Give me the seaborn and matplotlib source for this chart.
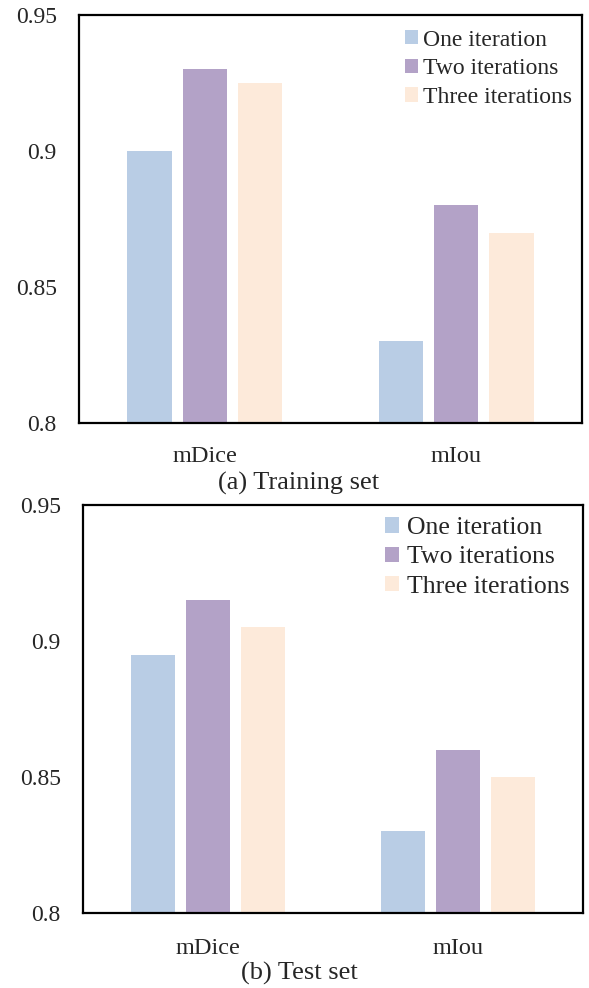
import matplotlib
matplotlib.use("Agg")
import matplotlib.pyplot as plt
import seaborn as sns
import pandas as pd

metrics = ["mDice", "mIou"]
iterations = ["One iteration", "Two iterations", "Three iterations"]
train_vals = {"One iteration": [0.900, 0.830],
              "Two iterations": [0.930, 0.880],
              "Three iterations": [0.925, 0.870]}
test_vals = {"One iteration": [0.895, 0.830],
             "Two iterations": [0.915, 0.860],
             "Three iterations": [0.905, 0.850]}
colors = ["#B9CDE5", "#B3A2C7", "#FDEADA"]
yticks = [0.8, 0.85, 0.9, 0.95]
ytick_labels = ["0.8", "0.85", "0.9", "0.95"]
captions = ["(a) Training set", "(b) Test set"]

sns.set_theme(style="white")
plt.rcParams["font.family"] = ["Liberation Serif", "DejaVu Serif"]

def to_df(vals):
    rows = []
    for it in iterations:
        for m, v in zip(metrics, vals[it]):
            rows.append({"metric": m, "iteration": it, "value": v})
    return pd.DataFrame(rows)

fig = plt.figure(figsize=(5.89, 9.88), dpi=100)
axes_pos = [[79/589, 1-423/988, 503/589, 408/988],
            [83/589, 1-913/988, 500/589, 408/988]]
cap_y = [1-483/988, 1-973/988]
leg_anchor = [(0.648, 0.964), (0.604, 0.970)]
leg_fs = [17, 18.5]
leg_sp = [0.32, 0.28]
leg_tp = [0.2, 0.3]
xpad = [16.5, 18]

for i, vals in enumerate([train_vals, test_vals]):
    ax = fig.add_axes(axes_pos[i])
    df = to_df(vals)
    sns.barplot(data=df, x="metric", y="value", hue="iteration",
                hue_order=iterations, palette=colors, width=0.66, gap=0.2,
                ax=ax, saturation=1, linewidth=0)
    ax.set_ylim(0.8, 0.95)
    ax.set_yticks(yticks)
    ax.set_yticklabels(ytick_labels, fontsize=17)
    ax.set_xticks(range(len(metrics)))
    ax.set_xticklabels(metrics, fontsize=17.5)
    ax.tick_params(axis="x", length=0, pad=xpad[i])
    ax.tick_params(axis="y", length=0, pad=16)
    ax.set_xlabel("")
    ax.set_ylabel("")
    for s in ax.spines.values():
        s.set_visible(True)
        s.set_color("black")
        s.set_linewidth(1.6)
    ax.legend(loc="upper left", bbox_to_anchor=leg_anchor[i], frameon=False,
              fontsize=leg_fs[i], handlelength=0.55, handleheight=0.55,
              handletextpad=leg_tp[i], labelspacing=leg_sp[i],
              borderaxespad=0, borderpad=0)
    fig.text(299/589, cap_y[i], captions[i], ha="center", va="center", fontsize=19)

fig.savefig("out.png", dpi=100)
